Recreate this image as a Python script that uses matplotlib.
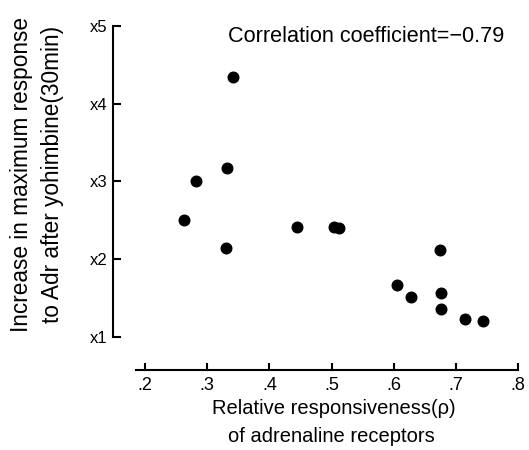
import numpy as np
import matplotlib
matplotlib.use('Agg')
import matplotlib.pyplot as plt

plt.rcParams['font.family'] = ['Liberation Sans', 'DejaVu Sans']

# relative responsiveness (rho) vs fold increase in max response
rho = [0.263, 0.282, 0.330, 0.332, 0.342, 0.444, 0.503, 0.512,
       0.605, 0.627, 0.674, 0.675, 0.676, 0.714, 0.744]
fold = [2.50, 3.00, 2.15, 3.18, 4.34, 2.41, 2.42, 2.40,
        1.67, 1.52, 2.12, 1.56, 1.36, 1.23, 1.20]

xticks = [0.2, 0.3, 0.4, 0.5, 0.6, 0.7, 0.8]
xlabels = ['.2', '.3', '.4', '.5', '.6', '.7', '.8']
yticks = [1, 2, 3, 4, 5]
ylabels = ['x1', 'x2', 'x3', 'x4', 'x5']

W, H = 529, 450
fig = plt.figure(figsize=(W / 100, H / 100), dpi=100)
ax = fig.add_axes([135.7 / W, 113 / H, 382.6 / W, 311 / H])

ax.scatter(rho, fold, s=58, color='black', clip_on=False, zorder=3)

ax.set_xlim(0.185, 0.8)
ax.set_ylim(1, 5)
ax.set_xticks(xticks)
ax.set_xticklabels(xlabels)
ax.set_yticks(yticks)
ax.set_yticklabels(ylabels)

for side in ('top', 'right'):
    ax.spines[side].set_visible(False)
ax.spines['left'].set_position(('outward', 16.5))
ax.spines['bottom'].set_position(('outward', 23.8))
ax.spines['left'].set_bounds(1, 5)
ax.spines['bottom'].set_bounds(0.185, 0.8)
for side in ('left', 'bottom'):
    ax.spines[side].set_linewidth(1.5)

ax.tick_params(axis='y', direction='in', length=6, width=1.5, pad=4, labelsize=12)
ax.tick_params(axis='x', direction='in', length=5, width=1.5, pad=5, labelsize=13)

ax.text(228 / W, 1 - 36 / H, 'Correlation coefficient=\u22120.79',
        transform=fig.transFigure, ha='left', va='center', fontsize=15.6)

# two-line axis titles
fig.text(22 / W, 1 - 174 / H, 'Increase in maximum response',
         rotation=90, ha='center', va='center', fontsize=16.3)
fig.text(53 / W, 1 - 174 / H, 'to Adr after yohimbine(30min)',
         rotation=90, ha='center', va='center', fontsize=16.3)
fig.text(334 / W, 1 - 409 / H, 'Relative responsiveness(\u03c1)',
         ha='center', va='center', fontsize=14.5)
fig.text(331 / W, 1 - 437 / H, 'of adrenaline receptors',
         ha='center', va='center', fontsize=14.5)

fig.savefig('out.png', dpi=100)
